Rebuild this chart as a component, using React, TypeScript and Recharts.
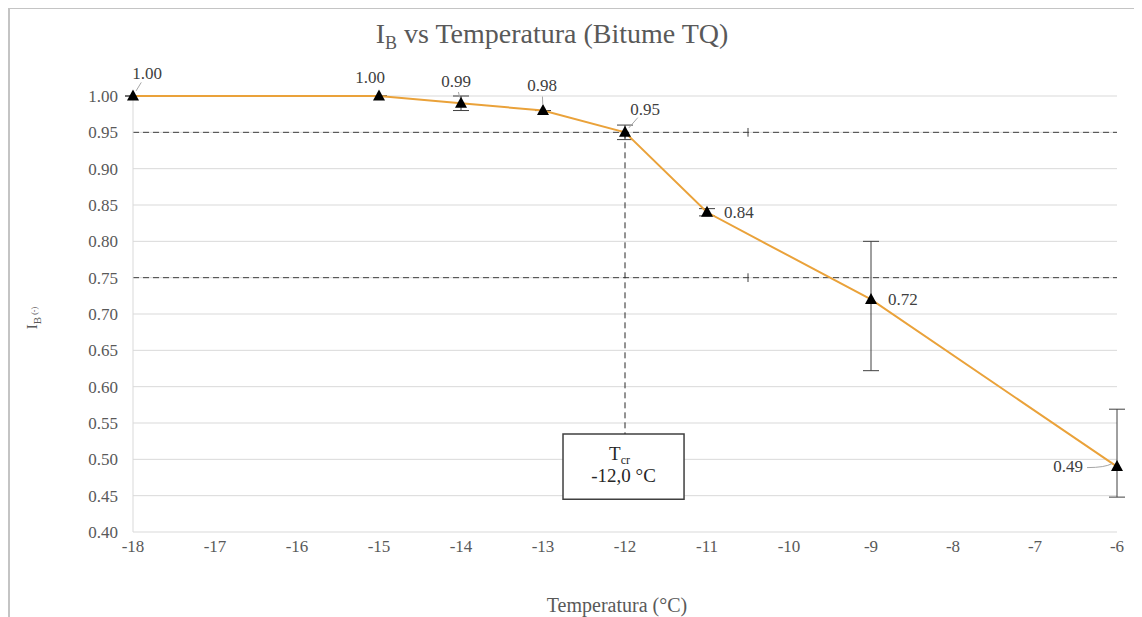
import React from 'react';
import {
  LineChart,
  Line,
  XAxis,
  YAxis,
  CartesianGrid,
  ErrorBar,
  ReferenceLine,
  ReferenceArea,
} from 'recharts';

// values
const temps = [-18, -15, -14, -13, -12, -11, -9, -6];
const ibValues = [1.0, 1.0, 0.99, 0.98, 0.95, 0.84, 0.72, 0.49];
const errLow = [0, 0, 0.01, 0, 0.01, 0.005, 0.098, 0.042];
const errHigh = [0, 0, 0.01, 0, 0.01, 0.005, 0.08, 0.079];
const xTicks = [-18, -17, -16, -15, -14, -13, -12, -11, -10, -9, -8, -7, -6];
const yTicks = [0.4, 0.45, 0.5, 0.55, 0.6, 0.65, 0.7, 0.75, 0.8, 0.85, 0.9, 0.95, 1.0];
const thresholds = [0.95, 0.75];
const tcr = -12.0;

const rows = temps.map((t, i) => ({
  t,
  ib: ibValues[i],
  err: [errLow[i], errHigh[i]],
}));

const FONT = '"Liberation Serif", "Times New Roman", serif';
const GREY = '#595959';

// where each value label sits relative to its point
// side: 'top' (centred), 'right' (start anchored), 'left' (end anchored)
const labelPos = [
  { dx: 14, dy: -23, side: 'top', lead: true },
  { dx: -9, dy: -19, side: 'top', lead: false },
  { dx: -5, dy: -22, side: 'top', lead: true },
  { dx: -1, dy: -25, side: 'top', lead: true },
  { dx: 20, dy: -23, side: 'top', lead: true },
  { dx: 17, dy: 0, side: 'right', lead: false },
  { dx: 17, dy: 0, side: 'right', lead: false },
  { dx: -34, dy: 0, side: 'left', lead: true },
];

const PointLabel = (props: any) => {
  const { x, y, value, index } = props;
  const p = labelPos[index] || { dx: 0, dy: -20, side: 'top', lead: false };
  let leader = null;
  if (p.lead) {
    if (p.side === 'left') {
      leader = (
        <path
          d={`M${x + p.dx + 4},${y + 1} Q${x - 12},${y + 1} ${x - 5},${y - 3}`}
          stroke="#a6a6a6"
          fill="none"
          strokeWidth={1}
        />
      );
    } else {
      const len = Math.hypot(p.dx, p.dy);
      const ux = p.dx / len;
      const uy = p.dy / len;
      leader = (
        <line
          x1={x + ux * 6}
          y1={y + uy * 6}
          x2={x + p.dx - ux * 11}
          y2={y + p.dy - uy * 11}
          stroke="#a6a6a6"
          strokeWidth={1}
        />
      );
    }
  }
  const anchor = p.side === 'right' ? 'start' : p.side === 'left' ? 'end' : 'middle';
  return (
    <g key={'lbl' + index}>
      {leader}
      <text
        x={x + p.dx}
        y={y + p.dy}
        textAnchor={anchor}
        dominantBaseline="central"
        fontFamily={FONT}
        fontSize={17}
        fill="#404040"
      >
        {Number(value).toFixed(2)}
      </text>
    </g>
  );
};

const Triangle = (props: any) => {
  const { cx, cy, index } = props;
  return (
    <path
      key={'tri' + index}
      d={`M${cx},${cy - 6.5} L${cx + 6},${cy + 4.5} L${cx - 6},${cy + 4.5} Z`}
      fill="#000"
    />
  );
};

const YLabel = () => (
  <text
    transform="translate(27,309) rotate(-90)"
    textAnchor="middle"
    fontFamily={FONT}
    fontSize={15}
    fill={GREY}
  >
    I<tspan fontSize={11} dy={4}>B</tspan>
    <tspan fontSize={8} dy={-4}> (-)</tspan>
  </text>
);

const TcrLabel = (props: any) => {
  const vb = props.viewBox || {};
  const cx = vb.x + vb.width / 2;
  const cy = vb.y + vb.height / 2;
  return (
    <text fontFamily={FONT} fill="#262626" textAnchor="middle">
      <tspan x={cx - 4} y={cy - 7} fontSize={19}>T</tspan>
      <tspan fontSize={12} dy={4}>cr</tspan>
      <tspan x={cx} y={cy + 15} fontSize={19}>
        {tcr.toFixed(1).replace('.', ',')} °C
      </tspan>
    </text>
  );
};

export default function App() {
  return (
    <div
      style={{
        position: 'relative',
        width: 1140,
        height: 620,
        marginTop: -1,
        borderTop: '2px solid #c4c4c4',
        borderLeft: '2px solid #c4c4c4',
        boxSizing: 'border-box',
        background: '#fff',
      }}
    >
      <div
        style={{
          position: 'absolute',
          top: 11,
          left: 0,
          width: 1084,
          textAlign: 'center',
          fontFamily: FONT,
          fontSize: 28,
          lineHeight: 1,
          color: GREY,
          whiteSpace: 'nowrap',
        }}
      >
        I<span style={{ fontSize: 18, position: 'relative', top: 6 }}>B</span> vs Temperatura (Bitume TQ)
      </div>
      <LineChart
        width={1130}
        height={610}
        data={rows}
        margin={{ top: 87, right: 23, left: 63, bottom: 57 }}
      >
        <CartesianGrid vertical={false} stroke="#d9d9d9" />
        <XAxis
          dataKey="t"
          type="number"
          domain={[-18, -6]}
          ticks={xTicks}
          interval={0}
          height={30}
          tickSize={0}
          tickMargin={8}
          axisLine={false}
          tick={{ fontFamily: FONT, fontSize: 17, fill: GREY }}
          label={{
            value: 'Temperatura (°C)',
            position: 'insideBottom',
            offset: -50,
            dx: -8,
            fontFamily: FONT,
            fontSize: 20,
            fill: GREY,
          }}
        />
        <YAxis
          type="number"
          domain={[0.4, 1.0]}
          ticks={yTicks}
          interval={0}
          width={60}
          tickSize={0}
          tickMargin={15}
          axisLine={{ stroke: '#d9d9d9' }}
          tickFormatter={(v: number) => v.toFixed(2)}
          tick={{ fontFamily: FONT, fontSize: 17, fill: GREY }}
          label={<YLabel />}
        />
        {thresholds.map((th) => (
          <ReferenceLine
            key={'th' + th}
            y={th}
            stroke="#404040"
            strokeDasharray="6 4"
            strokeWidth={1}
          />
        ))}
        {thresholds.map((th) => (
          <ReferenceLine
            key={'tk' + th}
            segment={[
              { x: -10.5, y: th - 0.006 },
              { x: -10.5, y: th + 0.006 },
            ]}
            stroke="#404040"
            strokeWidth={1}
          />
        ))}
        <ReferenceLine
          segment={[
            { x: tcr, y: thresholds[0] },
            { x: tcr, y: 0.535 },
          ]}
          stroke="#262626"
          strokeDasharray="6 4"
          strokeWidth={1}
        />
        <ReferenceArea
          x1={-12.756}
          x2={-11.28}
          y1={0.445}
          y2={0.535}
          fill="#fff"
          fillOpacity={1}
          stroke="#404040"
          strokeWidth={1.5}
          label={<TcrLabel />}
        />
        <Line
          dataKey="ib"
          stroke="#EAA23A"
          strokeWidth={2}
          isAnimationActive={false}
          dot={<Triangle />}
          activeDot={false}
          label={<PointLabel />}
        >
          <ErrorBar dataKey="err" width={8} stroke="#404040" strokeWidth={1} direction="y" />
        </Line>
      </LineChart>
    </div>
  );
}
